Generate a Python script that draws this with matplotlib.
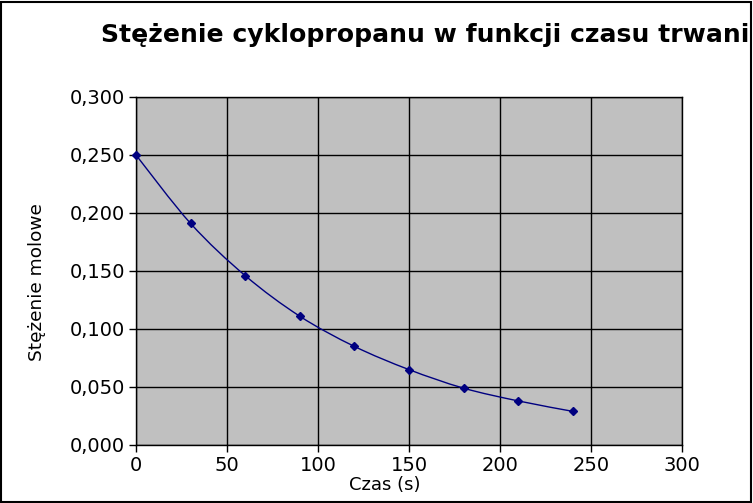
import numpy as np
import matplotlib
matplotlib.use("Agg")
import matplotlib.pyplot as plt
from matplotlib.path import Path
from matplotlib.patches import PathPatch, Rectangle

# dane
czas = [0, 30, 60, 90, 120, 150, 180, 210, 240]
stezenie = [0.250, 0.191, 0.146, 0.111, 0.085, 0.065, 0.049, 0.038, 0.029]

x_ticks = [0, 50, 100, 150, 200, 250, 300]
y_ticks = [0.0, 0.05, 0.10, 0.15, 0.20, 0.25, 0.30]
y_labels = ["0,000", "0,050", "0,100", "0,150", "0,200", "0,250", "0,300"]

W, H = 753, 503
fig = plt.figure(figsize=(W / 100, H / 100), dpi=100)
ax = fig.add_axes([136 / W, 1 - 445 / H, (682 - 136) / W, (445 - 97) / H])
ax.set_facecolor("#c0c0c0")

# wygladzona linia (Catmull-Rom -> krzywe Beziera), jak w arkuszu kalkulacyjnym
pts = np.column_stack([czas, stezenie]).astype(float)
verts = [pts[0]]
codes = [Path.MOVETO]
for i in range(len(pts) - 1):
    p0 = pts[i - 1] if i > 0 else pts[i]
    p1 = pts[i]
    p2 = pts[i + 1]
    p3 = pts[i + 2] if i + 2 < len(pts) else pts[i + 1]
    c1 = p1 + (p2 - p0) / 6
    c2 = p2 - (p3 - p1) / 6
    verts += [c1, c2, p2]
    codes += [Path.CURVE4] * 3
ax.add_patch(PathPatch(Path(verts, codes), fill=False, edgecolor="#000080", lw=1.0, zorder=3))
ax.plot(czas, stezenie, linestyle="none", marker="D", markersize=4.5,
        color="#000080", zorder=4, clip_on=False)

ax.set_xlim(0, 300)
ax.set_ylim(0, 0.3)
ax.set_xticks(x_ticks)
ax.set_yticks(y_ticks)
ax.set_yticklabels(y_labels)
ax.grid(True, color="black", lw=1.0)
ax.set_axisbelow(True)
for s in ax.spines.values():
    s.set_color("black")
    s.set_linewidth(1.0)
ax.tick_params(direction="out", length=5, width=1, labelsize=14, pad=3, colors="black")

fig.text(101 / W, 1 - 42 / H, "Stężenie cyklopropanu w funkcji czasu trwani",
         fontsize=18.1, fontweight="bold", ha="left", va="baseline")
fig.text(385 / W, 1 - 490 / H, "Czas (s)", fontsize=13, ha="center", va="baseline")
fig.text(37 / W, 1 - 282 / H, "Stężenie molowe", fontsize=13.3, rotation=90,
         ha="center", va="center")

fig.patches.append(Rectangle((0.001, 0.002), 0.996, 0.995, transform=fig.transFigure,
                             fill=False, edgecolor="black", lw=1.5))

fig.savefig("out.png", dpi=100)
